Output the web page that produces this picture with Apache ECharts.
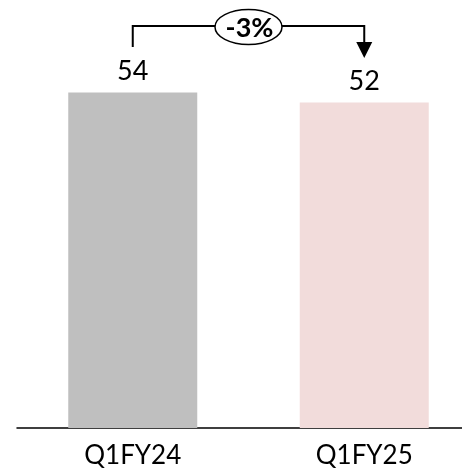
<!DOCTYPE html>
<html><head><meta charset="utf-8">
<script src="https://cdn.jsdelivr.net/npm/echarts@6/dist/echarts.min.js"></script>
<style>html,body{margin:0;padding:0;background:#fff}#c{width:462px;height:470px}</style>
</head><body><div id="c"></div>
<script>
const categories = ['Q1FY24', 'Q1FY25'];
const values = [54, 52.4];
const barColors = ['#BFBFBF', '#F2DCDB'];

const chart = echarts.init(document.getElementById('c'), null, {renderer: 'canvas'});
const FONT = 'Lato';
chart.setOption({
  animation: false,
  grid: {left: 17, width: 463, top: 55.2, bottom: 42, outerBoundsMode: 'none', containLabel: false},
  xAxis: {
    type: 'category', data: categories,
    axisLine: {lineStyle: {color: '#000', width: 1.5}},
    axisTick: {show: false},
    axisLabel: {fontFamily: FONT, fontSize: 26, color: '#000', margin: 15}
  },
  yAxis: {type: 'value', min: 0, max: 60, show: false, splitLine: {show: false}},
  series: [{
    type: 'bar', barWidth: 129,
    data: values.map((v, i) => ({value: v, itemStyle: {color: barColors[i]}})),
    label: {show: true, position: 'top', distance: 8, fontFamily: FONT, fontSize: 27, color: '#000',
      formatter: p => Math.round(p.value)}
  }]
});

const x1 = chart.convertToPixel({xAxisIndex: 0}, categories[0]);
const x2 = chart.convertToPixel({xAxisIndex: 0}, categories[1]);
const yLine = 26;
const pct = Math.round((values[1] - values[0]) / values[0] * 100);
const cx = (x1 + x2) / 2;
chart.setOption({
  graphic: [
    {type: 'polyline', shape: {points: [[x1, 47], [x1, yLine], [x2, yLine], [x2, 44]]},
      style: {stroke: '#000', lineWidth: 2, fill: null}},
    {type: 'polygon', shape: {points: [[x2 - 8, 42], [x2 + 8, 42], [x2, 58]]}, style: {fill: '#000'}},
    {type: 'ellipse', shape: {cx: cx, cy: yLine + 1, rx: 33.5, ry: 17.5},
      style: {fill: '#fff', stroke: '#000', lineWidth: 1.5}},
    {type: 'text', x: cx + 1, y: yLine + 2, style: {text: (pct > 0 ? '+' : '') + pct + '%', fontFamily: FONT, fontWeight: 'bold',
      fontSize: 27, fill: '#000', align: 'center', verticalAlign: 'middle'}}
  ]
});
</script></body></html>
